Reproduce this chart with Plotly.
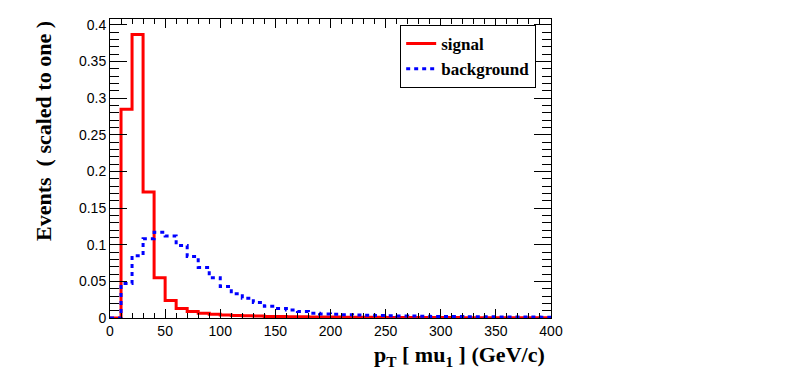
import plotly.graph_objects as go

bin_edges = [i * 10 for i in range(41)]
signal = [0.0, 0.285, 0.387, 0.172, 0.055, 0.024, 0.013, 0.0088, 0.0065, 0.005,
          0.004, 0.0033, 0.003, 0.0026, 0.0022, 0.002, 0.0018, 0.0016, 0.0014, 0.0013,
          0.0012, 0.0011, 0.001, 0.0009, 0.0009, 0.0008, 0.0008, 0.0007, 0.0007, 0.0006,
          0.0006, 0.0006, 0.0005, 0.0005, 0.0005, 0.0004, 0.0004, 0.0004, 0.0004, 0.0003]
background = [0.0, 0.047, 0.085, 0.108, 0.117, 0.112, 0.099, 0.084, 0.069, 0.055,
              0.043, 0.033, 0.027, 0.021, 0.016, 0.013, 0.011, 0.0087, 0.0066, 0.0056,
              0.005, 0.0045, 0.004, 0.0036, 0.0033, 0.003, 0.0028, 0.0026, 0.0024, 0.0022,
              0.002, 0.0019, 0.0018, 0.0017, 0.0016, 0.0015, 0.0014, 0.0013, 0.0012, 0.0011]
x_ticks = [0, 50, 100, 150, 200, 250, 300, 350, 400]
y_ticks = [0, 0.05, 0.1, 0.15, 0.2, 0.25, 0.3, 0.35, 0.4]
y_tick_text = ["0", "0.05", "0.1", "0.15", "0.2", "0.25", "0.3", "0.35", "0.4"]

fig = go.Figure()
fig.add_trace(go.Scatter(
    x=bin_edges, y=signal + [signal[-1]], mode="lines", name="<b>signal</b>",
    line=dict(color="#ff0000", width=3, shape="hv"),
))
fig.add_trace(go.Scatter(
    x=bin_edges, y=background + [background[-1]], mode="lines", name="<b>background</b>",
    line=dict(color="#0000ff", width=3, shape="hv", dash="4px,4px"),
))

axis_common = dict(
    showgrid=False, zeroline=False, showline=True, linecolor="black", linewidth=1,
    mirror="ticks", ticks="inside", tickcolor="black",
    tickfont=dict(family="Liberation Sans, Arial, sans-serif", size=14, color="black"),
)
fig.update_xaxes(
    range=[0, 400], tickvals=x_ticks, ticklen=9,
    minor=dict(dtick=10, ticks="inside", ticklen=5, tickcolor="black"),
    **axis_common,
)
fig.update_yaxes(
    range=[0, 0.408], tickvals=y_ticks, ticktext=y_tick_text, ticklen=17,
    minor=dict(dtick=0.01, ticks="inside", ticklen=9, tickcolor="black"),
    **axis_common,
)

title_font = dict(family="Liberation Serif, Times New Roman, serif", size=22, color="black")
fig.add_annotation(
    text="<b>p<sub>T</sub> [ mu<sub>1</sub> ] (GeV/c)</b>", xref="paper", yref="paper",
    x=0.99, y=-0.075, xanchor="right", yanchor="top", showarrow=False, font=title_font,
)
fig.add_annotation(
    text="<b>Events  ( scaled to one )</b>", xref="paper", yref="paper",
    x=-0.152, y=1.0, xanchor="center", yanchor="top", textangle=-90, showarrow=False,
    font=title_font,
)

fig.update_layout(
    width=780, height=367,
    margin=dict(l=102, r=237, t=9, b=57),
    paper_bgcolor="white", plot_bgcolor="white",
    showlegend=True,
    legend=dict(
        x=0.658, y=0.98, xanchor="left", yanchor="top",
        bordercolor="black", borderwidth=1, bgcolor="white",
        font=dict(family="Liberation Serif, Times New Roman, serif", size=17, color="black"),
        itemwidth=30,
    ),
)

fig.write_html("out.html")
